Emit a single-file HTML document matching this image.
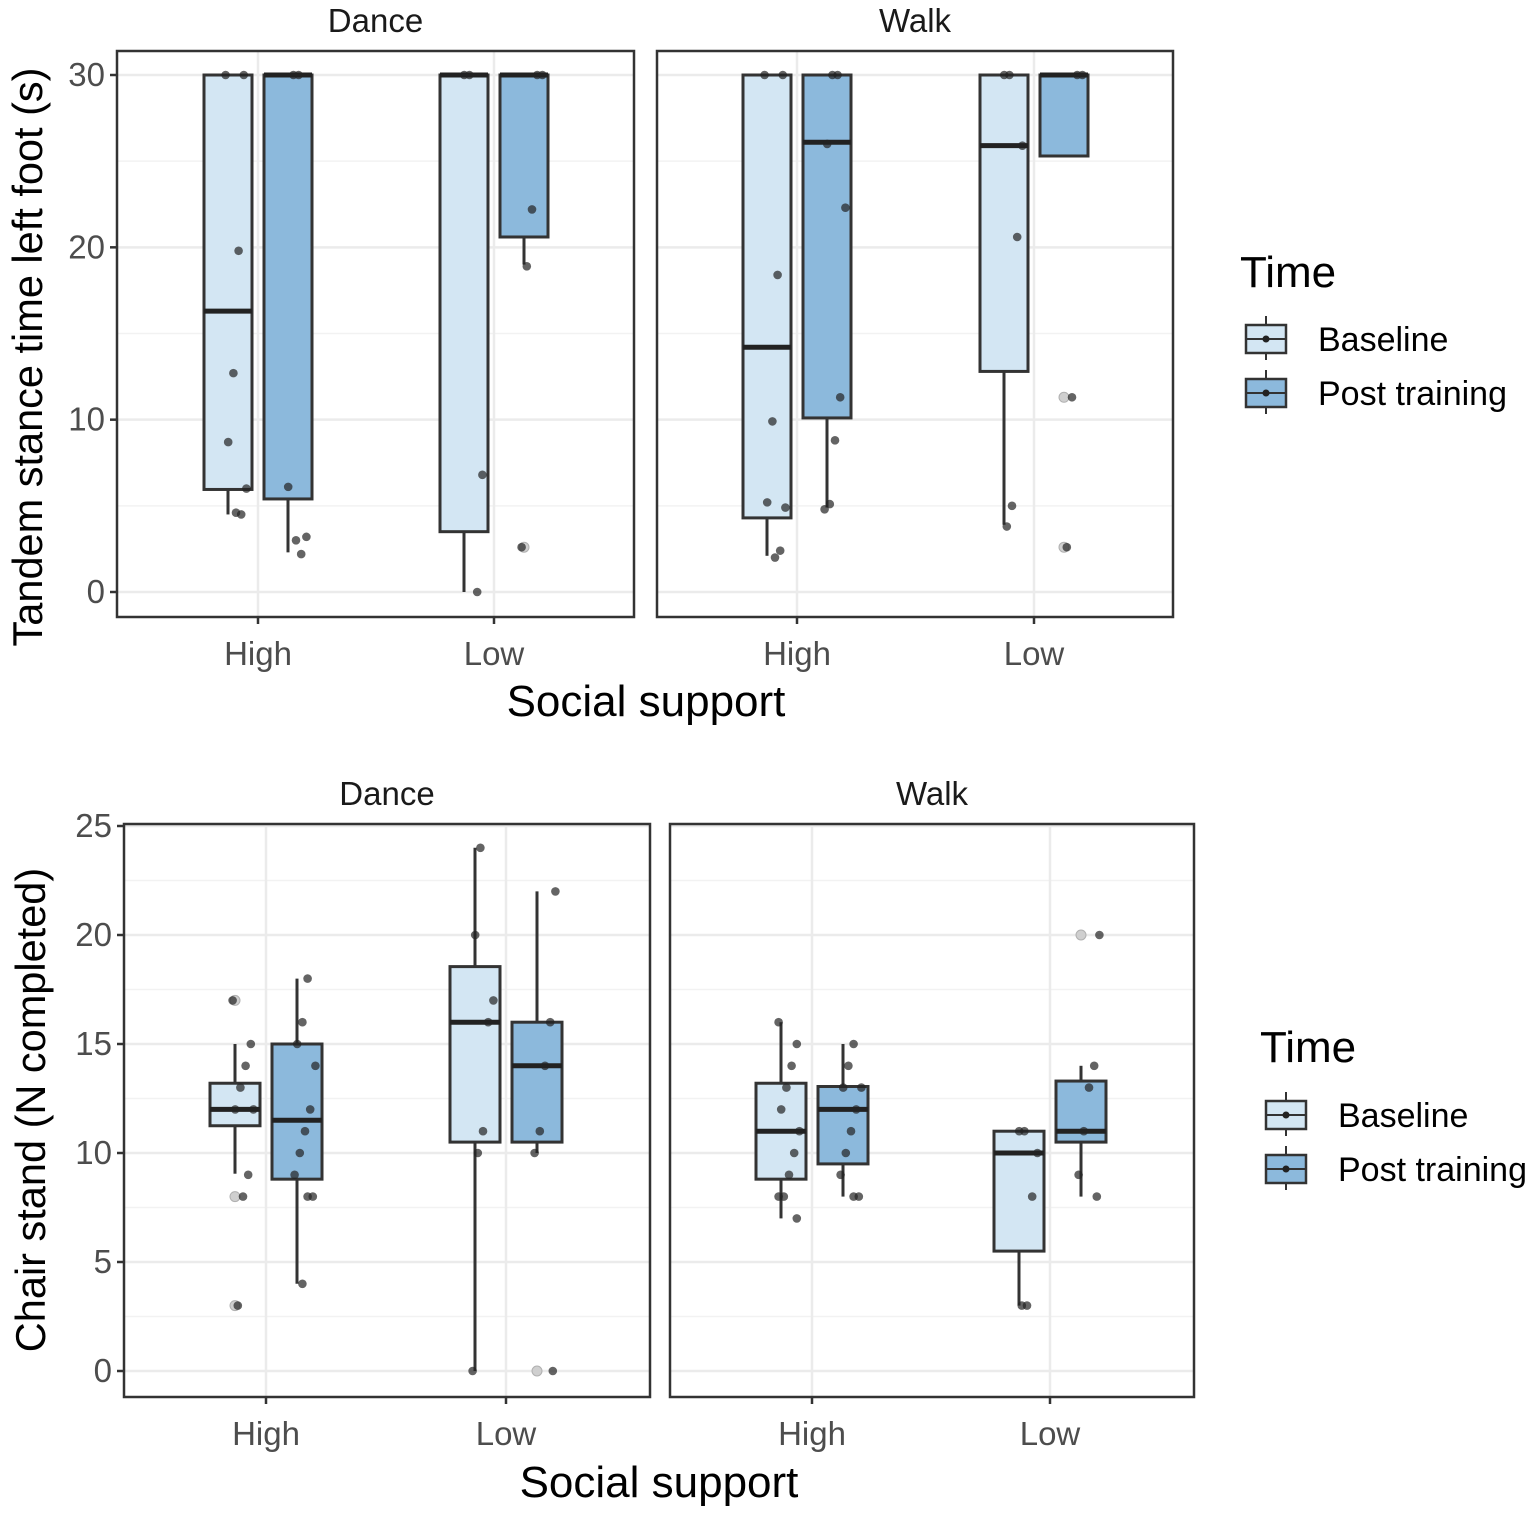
<!DOCTYPE html>
<html><head><meta charset="utf-8"><style>
body{margin:0;background:#fff}
svg{display:block;font-family:"Liberation Sans",Arial,sans-serif}
</style></head><body>
<svg id="chart" width="1535" height="1514" viewBox="0 0 1535 1514" xmlns="http://www.w3.org/2000/svg"></svg>
<script>
// ---- data ----
const facets = ["Dance","Walk"];
const categories = ["High","Low"];
const timeLevels = ["Baseline","Post training"];
// top chart: [facet][category][time] = [lowWhisker, Q1, median, Q3, highWhisker]
const topStats = [
 [[[4.5,5.95,16.3,30,30],[2.3,5.4,30,30,30]],[[0,3.5,30,30,30],[19,20.6,30,30,30]]],
 [[[2.1,4.3,14.2,30,30],[4.9,10.1,26.1,30,30]],[[3.9,12.8,25.9,30,30],[25.3,25.3,30,30,30]]]
];
const topPoints = [
 [[[30,30,19.8,12.7,8.7,6,4.5,4.6],[30,30,6.1,3.2,2.2,3.0]],[[30,30,6.8,0],[30,30,22.2,18.9,2.6]]],
 [[[30,30,18.4,9.9,5.2,4.9,2.4,2.0],[30,30,26,22.3,11.3,8.8,5.1,4.8]],[[30,30,25.9,20.6,5.0,3.8],[30,30,11.3,2.6]]]
];
const topOutliers = [[[[],[]],[[],[2.6]]],[[[],[]],[[],[11.3,2.6]]]];
const topTicks = [0,10,20,30];
const bottomStats = [
 [[[9.05,11.25,12,13.2,15],[4,8.8,11.5,15,18]],[[0,10.5,16,18.55,24],[10,10.5,14,16,22]]],
 [[[7,8.8,11,13.2,16],[8,9.5,12,13.05,15]],[[3,5.5,10,11,11],[8,10.5,11,13.3,14]]]
];
const bottomPoints = [
 [[[17,15,14,13,12,12,9,8,3],[18,16,15,14,12,11,10,9,8,8,4]],[[24,20,17,16,11,10,0],[22,16,14,11,10,0]]],
 [[[16,15,14,13,12,11,10,9,8,8,7],[15,14,13,13,12,11,10,9,8,8]],[[11,11,10,8,3,3],[20,14,13,11,9,8]]]
];
const bottomOutliers = [[[[17,8,3],[]],[[],[0]]],[[[],[]],[[],[20]]]];
const bottomTicks = [0,5,10,15,20,25];

const NS="http://www.w3.org/2000/svg";
const svg=document.getElementById('chart');
const fills=["#d3e6f3","#8cb9dc"];
function el(tag,attrs,parent){const e=document.createElementNS(NS,tag);for(const k in attrs)e.setAttribute(k,attrs[k]);(parent||svg).appendChild(e);return e;}
function txt(s,attrs,parent){const t=el('text',attrs,parent);t.textContent=s;return t;}

function drawChart(cfg){
  const {panels,yTop,yBot,vMax,ticks,stats,points,outliers,offset,bw}=cfg;
  const ys=v=>yBot-(v/vMax)*(yBot-yTop);
  panels.forEach((p,fi)=>{
    const g=el('g',{});
    
    
    el('rect',{x:p.x0,y:p.y0,width:p.x1-p.x0,height:p.y1-p.y0,fill:'#fff'},g);
    for(let i=0;i<ticks.length-1;i++){const m=(ticks[i]+ticks[i+1])/2;el('line',{x1:p.x0,x2:p.x1,y1:ys(m),y2:ys(m),stroke:'#f2f2f2','stroke-width':1.5},g);}
    ticks.forEach(t=>el('line',{x1:p.x0,x2:p.x1,y1:ys(t),y2:ys(t),stroke:'#ebebeb','stroke-width':2.5},g));
    p.cx.forEach(cx=>el('line',{x1:cx,x2:cx,y1:p.y0,y2:p.y1,stroke:'#ebebeb','stroke-width':2.5},g));
    categories.forEach((c,ci)=>{
      timeLevels.forEach((tl,ti)=>{
        const s=stats[fi][ci][ti];
        const cx=p.cx[ci]+(ti===0?-offset:offset);
        const bg=el('g',{},g);
        
        
        el('line',{x1:cx,x2:cx,y1:ys(s[4]),y2:ys(s[3]),stroke:'#333','stroke-width':3},bg);
        el('line',{x1:cx,x2:cx,y1:ys(s[1]),y2:ys(s[0]),stroke:'#333','stroke-width':3},bg);
        el('rect',{x:cx-bw/2,y:ys(s[3]),width:bw,height:Math.max(0.5,ys(s[1])-ys(s[3])),fill:fills[ti],stroke:'#333','stroke-width':3},bg);
        el('line',{x1:cx-bw/2,x2:cx+bw/2,y1:ys(s[2]),y2:ys(s[2]),stroke:'#222','stroke-width':5},bg);
        outliers[fi][ci][ti].forEach(v=>{
          const o=el('circle',{cx:cx,cy:ys(v),r:5,fill:'#cfcfcf',stroke:'#b0b0b0','stroke-width':1},bg);
          
          
        });
        points[fi][ci][ti].forEach((v,k)=>{
          const jit=((k*7+ci*3+ti*5)%9-4)*2.6+8;
          const d=el('circle',{cx:cx+jit,cy:ys(v),r:4.3,fill:'#222','fill-opacity':0.7},bg);
          
          
        });
      });
    });
    el('rect',{x:p.x0,y:p.y0,width:p.x1-p.x0,height:p.y1-p.y0,fill:'none',stroke:'#333','stroke-width':2.5},g);
    const st=txt(facets[fi],{x:(p.x0+p.x1)/2,y:p.y0-19,'text-anchor':'middle','font-size':33,fill:'#1a1a1a'});
    
    
    categories.forEach((c,ci)=>{
      el('line',{x1:p.cx[ci],x2:p.cx[ci],y1:p.y1,y2:p.y1+7,stroke:'#333','stroke-width':2.5});
      const xl=txt(c,{x:p.cx[ci],y:p.y1+48,'text-anchor':'middle','font-size':33,fill:'#4d4d4d'});
      
      
    });
  });
  const p0=panels[0];
  ticks.forEach(t=>{
    el('line',{x1:p0.x0-7,x2:p0.x0,y1:ys(t),y2:ys(t),stroke:'#333','stroke-width':2.5});
    const yl=txt(String(t),{x:p0.x0-12,y:ys(t)+11,'text-anchor':'end','font-size':33,fill:'#4d4d4d'});
    
    
  });
  const yt=txt(cfg.ytitle,{x:0,y:0,'text-anchor':'middle','font-size':41.5,fill:'#000',transform:`translate(${cfg.ytx},${cfg.yty}) rotate(-90)`});
  
  
  const xt=txt('Social support',{x:cfg.xtx,y:cfg.xty,'text-anchor':'middle','font-size':44,fill:'#000'});
  
  
  const L=cfg.legend;
  const lg=el('g',{});
  
  
  txt('Time',{x:L.x,y:L.ty,'font-size':44,fill:'#000'},lg);
  timeLevels.forEach((tl,ti)=>{
    const ky=L.ky+ti*54;
    const e=el('g',{},lg);
    
    
    el('line',{x1:L.x+26,x2:L.x+26,y1:ky-4,y2:ky+40,stroke:'#333','stroke-width':2},e);
    el('rect',{x:L.x+6,y:ky+5,width:40,height:28,fill:fills[ti],stroke:'#333','stroke-width':2.5},e);
    el('line',{x1:L.x+6,x2:L.x+46,y1:ky+19,y2:ky+19,stroke:'#333','stroke-width':2},e);
    el('circle',{cx:L.x+26,cy:ky+19,r:3.5,fill:'#222'},e);
    txt(tl,{x:L.x+78,y:ky+31,'font-size':34,fill:'#000'},e);
  });
}

drawChart({id:'tandem',yTop:75,yBot:592,vMax:30,ticks:topTicks,stats:topStats,points:topPoints,outliers:topOutliers,offset:30,bw:48,
  panels:[{x0:117,x1:634,y0:51,y1:617,cx:[258,494]},{x0:657,x1:1173,y0:51,y1:617,cx:[797,1034]}],
  ytitle:'Tandem stance time left foot (s)',ytx:42,yty:357,xtx:646,xty:716,legend:{x:1240,ty:287,ky:320}});
drawChart({id:'chair',yTop:826,yBot:1371,vMax:25,ticks:bottomTicks,stats:bottomStats,points:bottomPoints,outliers:bottomOutliers,offset:31,bw:50,
  panels:[{x0:124,x1:650,y0:824,y1:1397,cx:[266,506]},{x0:670,x1:1194,y0:824,y1:1397,cx:[812,1050]}],
  ytitle:'Chair stand (N completed)',ytx:45,yty:1110,xtx:659,xty:1497,legend:{x:1260,ty:1062,ky:1096}});
</script>
</body></html>
